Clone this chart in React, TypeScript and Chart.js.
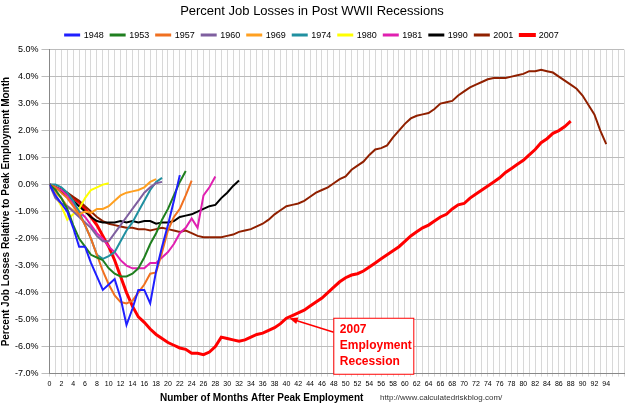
import React, { useEffect, useRef } from "react";
import { Chart, registerables } from "chart.js";
Chart.register(...registerables);

const years = ["1948","1953","1957","1960","1969","1974","1980","1981","1990","2001","2007"];
const colors = ["#1f1fff","#1f7f1f","#f07020","#7f5f9f","#ffa020","#2090a0","#ffff00","#e020b0","#000000","#902000","#ff0000"];
const widths = [2,2,2,2,2,2,2,2,2,2,3];
const s1948 = [0,-0.4,-0.7,-1.0,-1.6,-2.3,-2.3,-2.9,-3.4,-3.9,-3.7,-3.5,-4.2,-5.2,-4.6,-3.9,-3.9,-4.4,-3.2,-2.3,-1.5,-0.6,0.35];
const s1953 = [0,-0.2,-0.5,-0.9,-1.5,-2.0,-2.3,-2.6,-2.7,-2.8,-3.1,-3.3,-3.4,-3.4,-3.3,-3.1,-2.7,-2.2,-1.8,-1.3,-0.9,-0.4,0.1,0.5];
const s1957 = [0,-0.1,-0.3,-0.5,-0.8,-1.1,-1.5,-2.0,-2.6,-3.2,-3.7,-4.1,-4.35,-4.4,-4.3,-4.0,-3.7,-3.3,-3.25,-2.5,-1.7,-1.2,-0.9,-0.4,0.15];
const s1960 = [0,-0.5,-0.7,-0.8,-1.0,-1.2,-1.4,-1.6,-1.9,-2.1,-2.1,-1.8,-1.5,-1.2,-0.9,-0.6,-0.3,-0.1,0.05,0.1];
const s1969 = [0,-0.3,-0.5,-0.8,-0.95,-1.1,-1.0,-1.05,-0.9,-0.9,-0.8,-0.6,-0.4,-0.3,-0.25,-0.2,-0.1,0.1,0.2];
const s1974 = [0,0,-0.1,-0.3,-0.6,-1.0,-1.5,-2.0,-2.6,-2.75,-2.65,-2.5,-2.1,-1.7,-1.4,-1.0,-0.6,-0.2,0.1,0.25];
const s1980 = [0,-0.4,-0.8,-1.3,-1.1,-0.9,-0.5,-0.2,-0.1,0.0,0.05];
const s1981 = [0,-0.1,-0.2,-0.4,-0.7,-1.0,-1.2,-1.5,-1.8,-2.0,-2.3,-2.5,-2.8,-3.0,-3.1,-3.1,-3.1,-2.9,-2.9,-2.7,-2.5,-2.2,-1.8,-1.6,-1.25,-1.6,-0.4,-0.1,0.3];
const s1990 = [0,-0.1,-0.25,-0.4,-0.6,-0.8,-1.0,-1.2,-1.35,-1.4,-1.4,-1.4,-1.35,-1.4,-1.35,-1.4,-1.35,-1.35,-1.45,-1.4,-1.4,-1.35,-1.2,-1.15,-1.1,-1.0,-0.9,-0.8,-0.75,-0.5,-0.3,-0.05,0.15];
const s2001 = [0,-0.1,-0.2,-0.3,-0.45,-0.6,-0.8,-1.0,-1.2,-1.35,-1.45,-1.5,-1.55,-1.6,-1.6,-1.65,-1.65,-1.7,-1.65,-1.6,-1.65,-1.7,-1.75,-1.7,-1.8,-1.9,-1.95,-1.95,-1.95,-1.95,-1.9,-1.85,-1.75,-1.7,-1.65,-1.55,-1.45,-1.3,-1.1,-0.95,-0.8,-0.75,-0.7,-0.6,-0.45,-0.3,-0.2,-0.1,0.05,0.2,0.3,0.55,0.7,0.85,1.1,1.3,1.35,1.45,1.75,2.0,2.25,2.45,2.55,2.6,2.65,2.8,3.0,3.05,3.1,3.3,3.45,3.6,3.7,3.8,3.9,3.95,3.95,3.95,4.0,4.05,4.1,4.2,4.2,4.25,4.2,4.15,4.0,3.85,3.7,3.55,3.3,2.95,2.6,2.0,1.5];
const s2007 = [0,-0.1,-0.2,-0.35,-0.5,-0.65,-0.9,-1.2,-1.5,-1.9,-2.3,-2.8,-3.4,-4.0,-4.5,-4.9,-5.1,-5.35,-5.55,-5.7,-5.85,-5.95,-6.05,-6.1,-6.25,-6.25,-6.3,-6.2,-6.0,-5.65,-5.7,-5.75,-5.8,-5.75,-5.65,-5.55,-5.5,-5.4,-5.3,-5.15,-4.95,-4.85,-4.75,-4.65,-4.5,-4.35,-4.2,-4.0,-3.8,-3.6,-3.45,-3.35,-3.3,-3.2,-3.05,-2.9,-2.75,-2.6,-2.45,-2.3,-2.1,-1.9,-1.75,-1.6,-1.5,-1.35,-1.2,-1.1,-0.9,-0.75,-0.7,-0.5,-0.35,-0.2,-0.05,0.1,0.25,0.45,0.6,0.75,0.9,1.1,1.3,1.55,1.7,1.9,2.0,2.15,2.35];
const series = [s1948,s1953,s1957,s1960,s1969,s1974,s1980,s1981,s1990,s2001,s2007];
const annotationLines = ["2007","Employment","Recession"];
const arrowMonth = 40;
const arrowValue = -4.95;
const xTitle = "Number of Months After Peak Employment";
const sourceText = "http://www.calculatedriskblog.com/";

const FONT = "'Liberation Sans', Arial, sans-serif";

const annotationPlugin = {
  id: "anno",
  afterDatasetsDraw(chart: any) {
    const { ctx, scales } = chart;
    const x = scales.x, y = scales.y;
    const bx = x.getPixelForValue(48), by = y.getPixelForValue(-4.95);
    const bw = 80, bh = 56;
    const tx = x.getPixelForValue(arrowMonth) + 3, ty = y.getPixelForValue(arrowValue);
    ctx.save();
    ctx.strokeStyle = "#ff0000"; ctx.fillStyle = "#ff0000"; ctx.lineWidth = 1.5;
    ctx.beginPath(); ctx.moveTo(bx, by + 14); ctx.lineTo(tx + 6, ty + 2); ctx.stroke();
    const ang = Math.atan2(ty - (by + 14), tx - bx);
    ctx.beginPath(); ctx.moveTo(tx, ty);
    ctx.lineTo(tx - 9 * Math.cos(ang - 0.4), ty - 9 * Math.sin(ang - 0.4));
    ctx.lineTo(tx - 9 * Math.cos(ang + 0.4), ty - 9 * Math.sin(ang + 0.4));
    ctx.closePath(); ctx.fill();
    ctx.fillStyle = "#fff"; ctx.fillRect(bx, by, bw, bh);
    ctx.strokeStyle = "#ff0000"; ctx.lineWidth = 1; ctx.strokeRect(bx, by, bw, bh);
    ctx.fillStyle = "#ff0000"; ctx.font = "bold 12px " + FONT; ctx.textBaseline = "top";
    annotationLines.forEach((t, i) => ctx.fillText(t, bx + 6, by + 5 + i * 16));
    ctx.restore();
  },
};

const bgPlugin = {
  id: "bg",
  beforeDraw(chart: any) {
    const { ctx } = chart;
    ctx.save(); ctx.fillStyle = "#fff"; ctx.fillRect(0, 0, chart.width, chart.height); ctx.restore();
  },
  afterDraw(chart: any) {
    const { ctx } = chart;
    ctx.save();
    ctx.textBaseline = "middle";
    ctx.font = "bold 10px " + FONT; ctx.fillStyle = "#000";
    ctx.fillText(xTitle, 160, 398);
    ctx.font = "8px " + FONT; ctx.fillStyle = "#333";
    ctx.fillText(sourceText, 380, 398);
    ctx.restore();
  },
};

export default function App() {
  const ref = useRef<HTMLCanvasElement>(null);
  useEffect(() => {
    const chart = new Chart(ref.current!, {
      type: "line",
      data: {
        datasets: years.map((yr, i) => ({
          label: yr,
          data: series[i].map((v, m) => ({ x: m, y: v })),
          borderColor: colors[i],
          backgroundColor: colors[i],
          borderWidth: widths[i],
          pointRadius: 0,
          tension: 0,
        })),
      },
      options: {
        animation: false,
        responsive: false,
        layout: { padding: { top: 0, right: 16, left: 0, bottom: 18 } },
        plugins: {
          title: { display: true, text: "Percent Job Losses in Post WWII Recessions", color: "#000", font: { family: FONT, size: 13, weight: "normal" }, padding: { top: 4, bottom: 4 } },
          legend: {
            labels: { color: "#000", font: { family: FONT, size: 9 }, boxWidth: 14, boxHeight: 1, padding: 7 },
          },
          tooltip: { enabled: false },
        },
        scales: {
          x: {
            type: "linear", min: 0, max: 97,
            ticks: { stepSize: 1, autoSkip: false, maxRotation: 0, color: "#000", font: { family: FONT, size: 7 },
              callback: (v: any) => (v % 2 === 0 && v <= 94 ? String(v) : "") },
            grid: { color: "#d8d8d8", drawTicks: true, tickLength: 3 },
            border: { color: "#888" },
          },
          y: {
            min: -7, max: 5,
            ticks: { stepSize: 1, color: "#000", font: { family: FONT, size: 9 }, callback: (v: any) => Number(v).toFixed(1) + "%" },
            grid: { color: "#bcbcbc" },
            border: { color: "#888" },
            title: { display: true, text: "Percent Job Losses Relative to Peak Employment Month", color: "#000", font: { family: FONT, size: 10, weight: "bold" }, padding: 0 },
          },
        },
      },
      plugins: [bgPlugin, annotationPlugin],
    } as any);
    return () => chart.destroy();
  }, []);
  return (
    <div style={{ position: "fixed", left: 0, top: 0, width: 640, height: 409 }}>
      <canvas ref={ref} width={640} height={409} />
    </div>
  );
}
